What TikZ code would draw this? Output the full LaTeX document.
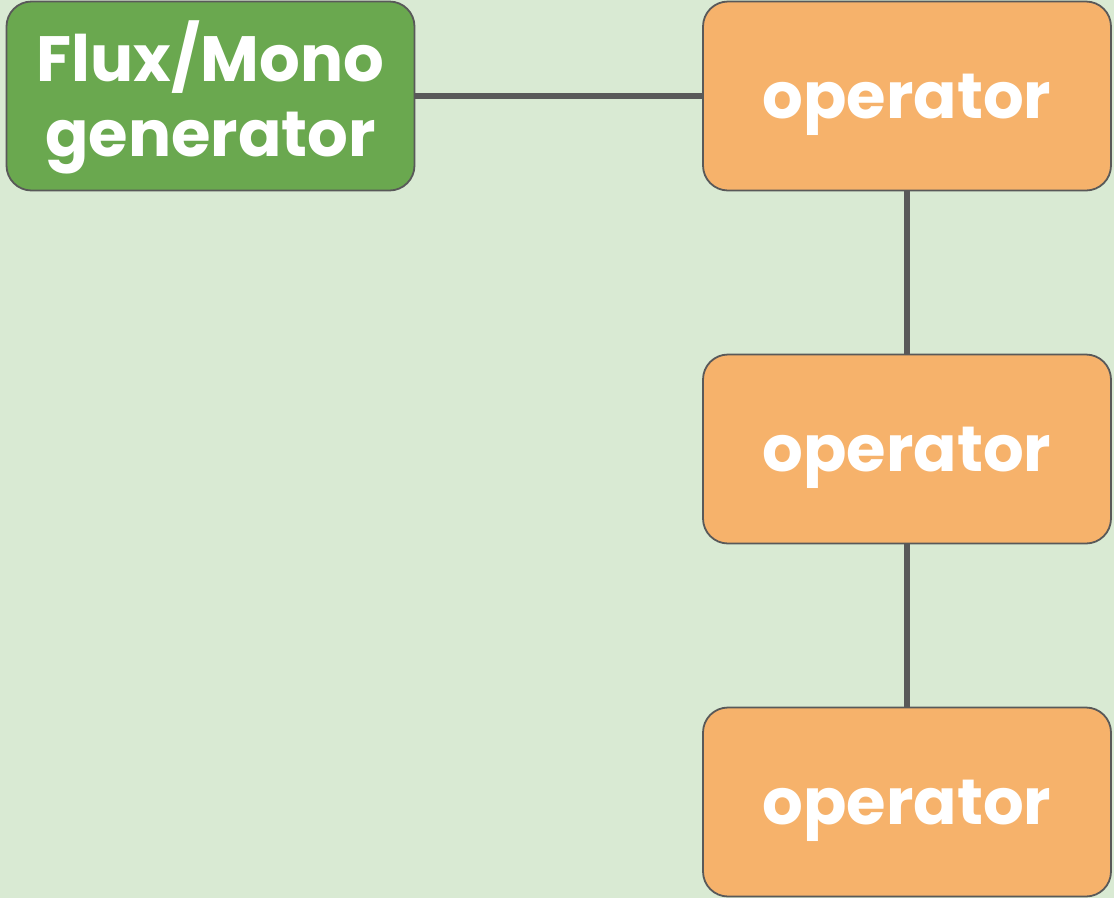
\documentclass[tikz,border=0pt]{standalone}
\usepackage{fontspec}
\setmainfont{Poppins}[BoldFont={* Bold}]
\definecolor{bgcol}{HTML}{D9EAD3}
\definecolor{gencol}{HTML}{6AA84F}
\definecolor{opcol}{HTML}{F6B26B}
\definecolor{edgecol}{HTML}{595959}
\begin{document}
\begin{tikzpicture}[x=1pt,y=-1pt,
  box/.style={draw=edgecol, line width=1.8pt, rounded corners=25pt,
    minimum width=408pt, minimum height=189pt, inner sep=0pt,
    text=white, font=\fontsize{64}{75}\selectfont\bfseries, align=center,
    text depth=0pt},
  genbox/.style={box, fill=gencol, text depth=14pt},
  opbox/.style={box, fill=opcol},
  link/.style={draw=edgecol, line width=6pt}]
  \fill[bgcol] (0,0) rectangle (1114,898);
  \useasboundingbox (0,0) rectangle (1114,898);
  % connectors first so boxes sit on top
  \coordinate (g) at (210.5,96);
  \coordinate (o1) at (907,96);
  \coordinate (o2) at (907,449);
  \coordinate (o3) at (907,802);
  \draw[link] (g) -- (o1);
  \draw[link] (o1) -- (o2);
  \draw[link] (o2) -- (o3);
  \node[genbox] (gen) at (g) {Flux/Mono\\generator};
  \node[opbox] (op1) at (o1) {operator};
  \node[opbox] (op2) at (o2) {operator};
  \node[opbox] (op3) at (o3) {operator};
\end{tikzpicture}
\end{document}
